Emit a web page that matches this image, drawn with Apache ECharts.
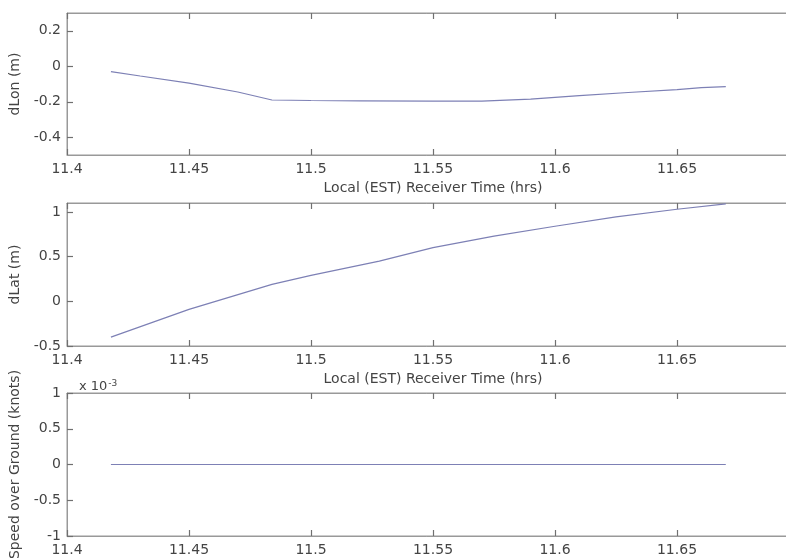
<!DOCTYPE html>
<html>
<head>
<meta charset="utf-8">
<script src="https://cdn.jsdelivr.net/npm/echarts@6/dist/echarts.min.js"></script>
<style>
  html, body { margin: 0; padding: 0; background: #fff; }
  #chart { width: 786px; height: 558px; }
</style>
</head>
<body>
<div id="chart"></div>
<script>
// Receiver time (hrs, EST) and position / speed errors
const timeLon = [11.418, 11.43, 11.45, 11.47, 11.484, 11.5, 11.52, 11.55, 11.57, 11.59, 11.61, 11.63, 11.65, 11.66, 11.67];
const dLon    = [-0.03, -0.055, -0.095, -0.145, -0.19, -0.193, -0.195, -0.197, -0.196, -0.185, -0.165, -0.148, -0.132, -0.12, -0.115];

const timeLat = [11.418, 11.45, 11.484, 11.5, 11.528, 11.55, 11.575, 11.6, 11.625, 11.65, 11.67];
const dLat    = [-0.4, -0.09, 0.19, 0.29, 0.45, 0.6, 0.73, 0.84, 0.945, 1.03, 1.09];

const timeSog = [11.418, 11.67];
const sog     = [0, 0]; // knots, in units of 1e-3

const xLabels   = [11.4, 11.45, 11.5, 11.55, 11.6, 11.65];
const lonTicks  = [-0.4, -0.2, 0, 0.2];
const latTicks  = [-0.5, 0, 0.5, 1];
const sogTicks  = [-1, -0.5, 0, 0.5, 1];

const xName = 'Local (EST) Receiver Time (hrs)';
const FONT = 'DejaVu Sans';
const TEXT = '#444';
const FRAME = '#999';
const TICK = '#707070';
const LINE = '#7d80b5';

const grids = [
  { left: 67, right: -13, top: 13, height: 142 },
  { left: 67, right: -13, top: 203, height: 143 },
  { left: 67, right: -13, top: 393, height: 143 }
].map(g => Object.assign(g, {
  show: true, borderColor: FRAME, borderWidth: 1, backgroundColor: 'transparent',
  outerBoundsMode: 'none', containLabel: false
}));

const fmt = v => String(Math.round(v * 1000) / 1000);

function bottomX(i) {
  return {
    type: 'value', gridIndex: i, min: 11.4, max: 11.7, interval: 0.05, position: 'bottom',
    name: xName, nameLocation: 'middle', nameGap: 26,
    nameTextStyle: { fontFamily: FONT, fontSize: 14, color: TEXT },
    axisLine: { show: true, onZero: false, lineStyle: { color: FRAME } },
    axisTick: { show: true, inside: true, length: 6, lineStyle: { color: TICK, width: 1.2 } },
    axisLabel: { customValues: xLabels, formatter: fmt, fontFamily: FONT, fontSize: 14, color: TEXT, margin: 7 },
    splitLine: { show: false }
  };
}
function topX(i) {
  return {
    type: 'value', gridIndex: i, min: 11.4, max: 11.7, interval: 0.05, position: 'top',
    axisLine: { show: true, onZero: false, lineStyle: { color: FRAME } },
    axisTick: { show: true, inside: true, length: 6, lineStyle: { color: TICK, width: 1.2 } },
    axisLabel: { show: false },
    splitLine: { show: false }
  };
}
function leftY(i, min, max, ticks, name) {
  return {
    type: 'value', gridIndex: i, min: min, max: max, position: 'left',
    name: name, nameLocation: 'middle', nameRotate: 90, nameGap: 38,
    nameTextStyle: { fontFamily: FONT, fontSize: 14, color: TEXT },
    axisLine: { show: true, onZero: false, lineStyle: { color: FRAME } },
    axisTick: { show: true, inside: true, length: 6, customValues: ticks, lineStyle: { color: TICK, width: 1.2 } },
    axisLabel: { customValues: ticks, formatter: fmt, fontFamily: FONT, fontSize: 14, color: TEXT, margin: 6 },
    splitLine: { show: false }
  };
}
function lineSeries(i, xs, ys) {
  return {
    type: 'line', xAxisIndex: i * 2, yAxisIndex: i,
    data: xs.map((x, k) => [x, ys[k]]),
    showSymbol: false, symbol: 'none', smooth: false,
    lineStyle: { color: LINE, width: 1.2 },
    silent: true
  };
}

const chart = echarts.init(document.getElementById('chart'), null, { renderer: 'canvas' });
chart.setOption({
  animation: false,
  backgroundColor: '#fff',
  title: {
    text: 'x 10{sup|-3}', left: 74, top: 374,
    textStyle: {
      fontFamily: FONT, fontSize: 13, fontWeight: 'normal', color: TEXT,
      rich: { sup: { fontFamily: FONT, fontSize: 9, color: TEXT, verticalAlign: 'top', padding: [0, 0, 7, 1] } }
    }
  },
  grid: grids,
  xAxis: [bottomX(0), topX(0), bottomX(1), topX(1), bottomX(2), topX(2)],
  yAxis: [
    leftY(0, -0.5, 0.3, lonTicks, 'dLon (m)'),
    leftY(1, -0.5, 1.1, latTicks, 'dLat (m)'),
    leftY(2, -1, 1, sogTicks, 'Speed over Ground (knots)')
  ],
  series: [
    lineSeries(0, timeLon, dLon),
    lineSeries(1, timeLat, dLat),
    lineSeries(2, timeSog, sog)
  ]
});
</script>
</body>
</html>
